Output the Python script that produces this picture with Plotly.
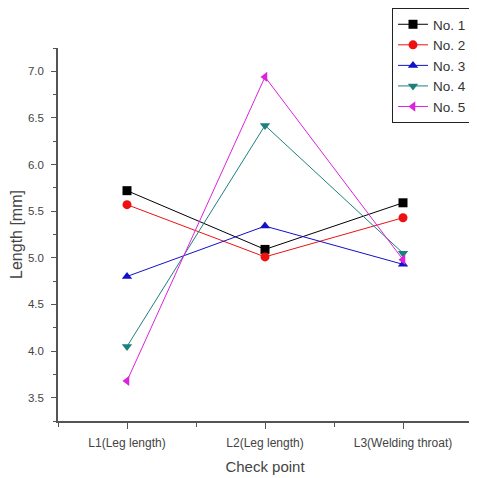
import plotly.graph_objects as go

categories = ["L1(Leg length)", "L2(Leg length)", "L3(Welding throat)"]
series_names = ["No. 1", "No. 2", "No. 3", "No. 4", "No. 5"]
no1 = [5.72, 5.09, 5.59]
no2 = [5.57, 5.01, 5.43]
no3 = [4.80, 5.34, 4.93]
no4 = [4.05, 6.42, 5.05]
no5 = [3.68, 6.94, 4.98]
y_ticks = [3.5, 4.0, 4.5, 5.0, 5.5, 6.0, 6.5, 7.0]

values = [no1, no2, no3, no4, no5]
colors = ["#000000", "#ee1111", "#1111cc", "#1f7f7f", "#dd22dd"]
symbols = ["square", "circle", "triangle-up", "triangle-down", "triangle-left"]
xpos = list(range(len(categories)))

fig = go.Figure()
for name, vals, c, s in zip(series_names, values, colors, symbols):
    fig.add_trace(go.Scatter(
        x=xpos, y=vals, name=name, mode="lines+markers",
        line=dict(color=c, width=1),
        marker=dict(symbol=s, size=9, color=c),
    ))

fig.update_layout(
    width=477, height=478,
    margin=dict(l=50, r=13, t=40, b=65, autoexpand=False),
    paper_bgcolor="white", plot_bgcolor="white",
    font=dict(family="Liberation Sans, Arial, sans-serif", color="#444"),
    showlegend=True,
    legend=dict(
        xref="container", yref="container",
        x=384 / 477, y=1.0, xanchor="left", yanchor="top",
        bordercolor="#222", borderwidth=1, bgcolor="white",
        font=dict(size=13.5, color="#333"),
        tracegroupgap=0, itemwidth=30,
    ),
)
fig.update_xaxes(
    automargin=False,
    range=[-0.5, 2.5], tickvals=xpos, ticktext=categories,
    showgrid=False, zeroline=False, showline=True, linecolor="#555", linewidth=1.5,
    ticks="outside", ticklen=6, tickcolor="#555",
    minor=dict(ticks="outside", ticklen=4, tick0=0.5, dtick=1, tickcolor="#555"),
    tickfont=dict(size=12, color="#444"), ticklabelstandoff=4,
    title=dict(text="Check point", font=dict(size=15, color="#444"), standoff=12),
)
fig.update_yaxes(
    automargin=False,
    range=[3.25, 7.25], tickvals=y_ticks, ticktext=[f"{v:.1f}" for v in y_ticks],
    showgrid=False, zeroline=False, showline=True, linecolor="#555", linewidth=1.5,
    ticks="outside", ticklen=5, tickcolor="#555",
    minor=dict(ticks="outside", ticklen=3, tick0=3.25, dtick=0.5, tickcolor="#555"),
    tickfont=dict(size=11.5, color="#444"), ticklabelstandoff=5,
    title=dict(text="Length [mm]", font=dict(size=16, color="#444"), standoff=6),
)

fig.write_html("out.html")
